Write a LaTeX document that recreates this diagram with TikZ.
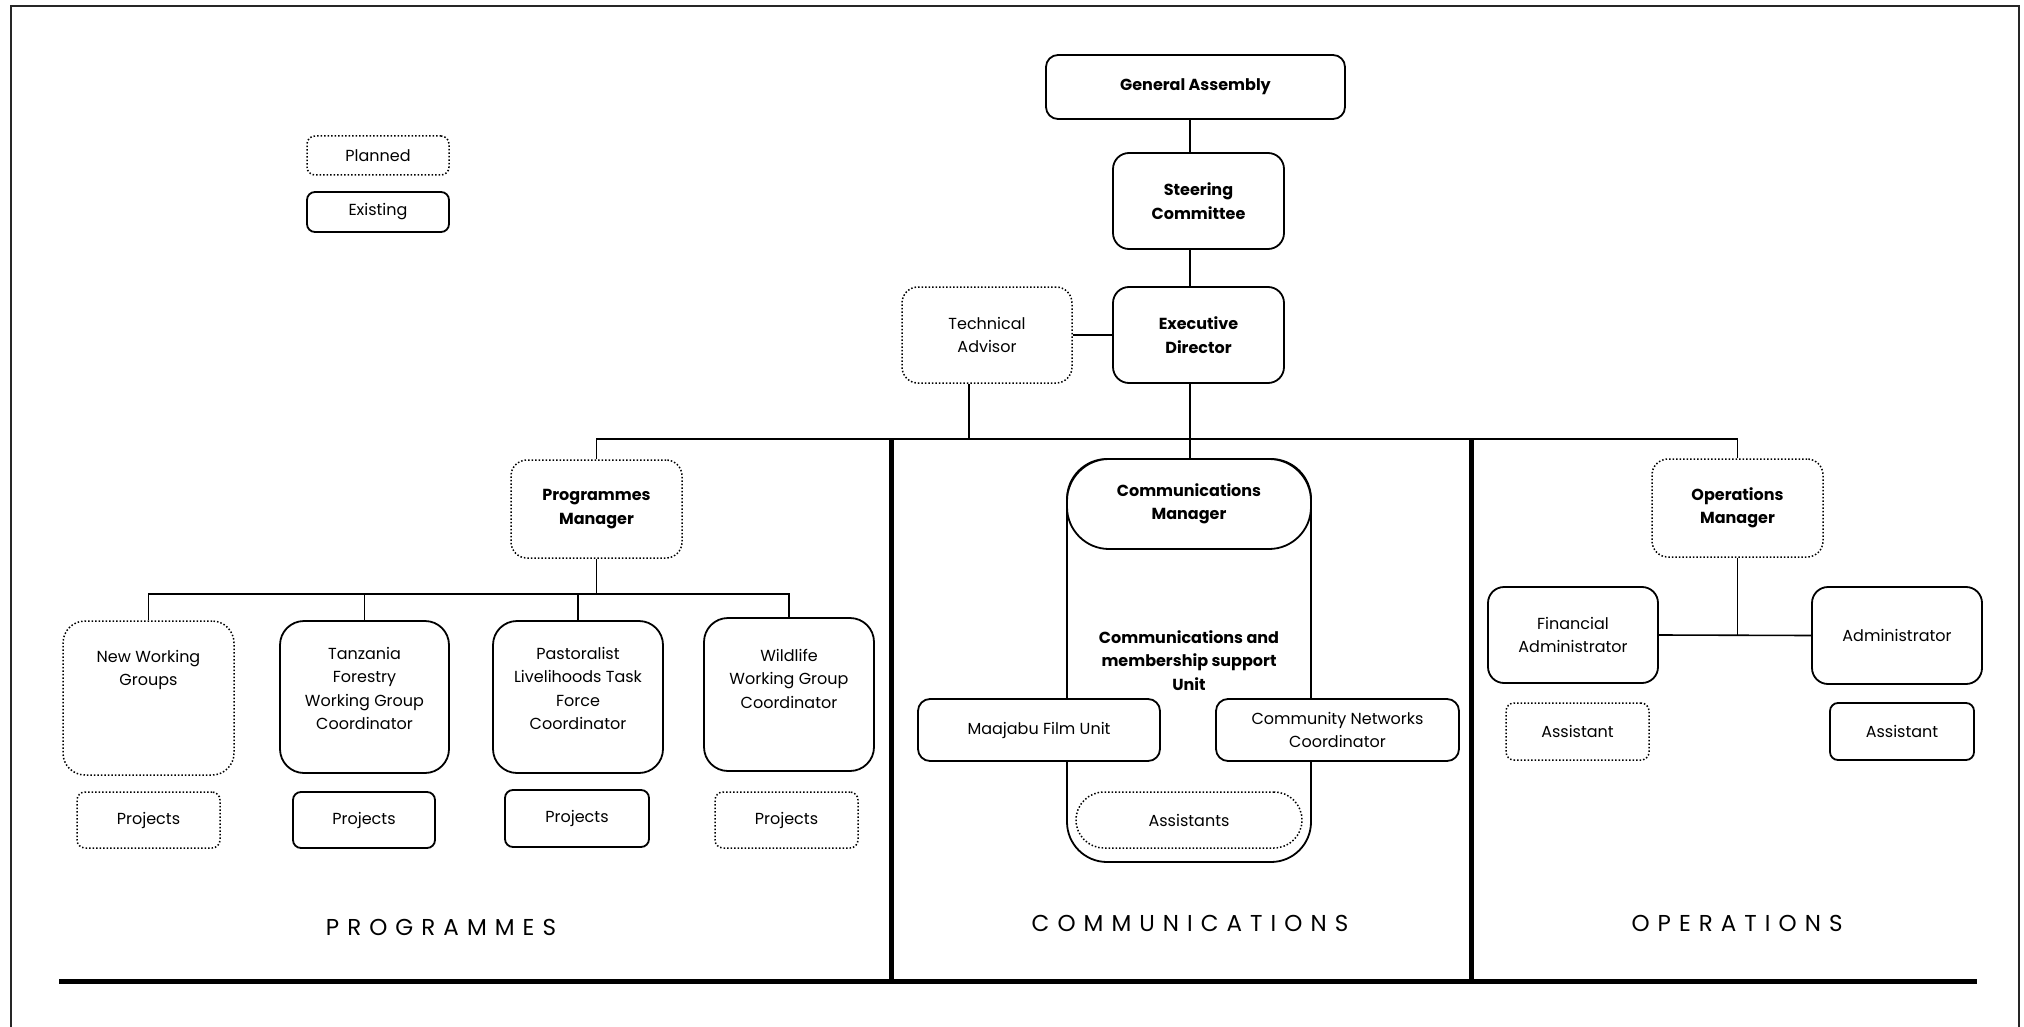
\documentclass[tikz,border=0pt]{standalone}
\usepackage{fontspec}
\setmainfont{Poppins}
\newcommand\regf{\fontsize{16}{23.5}\selectfont}
\newcommand\bldf{\fontsize{16}{23.5}\selectfont\bfseries}
\newcommand\secf{\fontsize{23}{28}\selectfont\addfontfeatures{LetterSpace=35}}
\newcommand\tbox[4]{\parbox[c][#1][t]{#2}{\centering\vspace*{#3}#4\par}}
\begin{document}
\begin{tikzpicture}[x=1pt,y=-1pt,
  base/.style={rounded corners=#1, inner sep=0pt, align=center, fill=white, font=\regf},
  exist/.style={base=#1, draw, line width=1.8pt},
  exist/.default=16pt,
  plan/.style={base=#1, draw, line width=1.5pt, dash pattern=on 1.5pt off 2pt},
  plan/.default=16pt,
  conn/.style={line width=1.6pt},
  divider/.style={line width=5pt},
  sect/.style={font=\secf, inner sep=0pt},
]
\useasboundingbox (0,0) rectangle (2024,1027);
\clip (0,0) rectangle (2024,1027);
\fill[white] (0,0) rectangle (2024,1027);
% frame
\draw[line width=2.5pt, black!85] (11,6) rectangle (2019,1060);

% helper coordinates
\coordinate (topbus) at (0,439);
\coordinate (spine) at (1190,0);
\coordinate (tadrop) at (969,0);
\coordinate (pbus) at (0,594);

% dividers and bottom rule
\draw[divider] (891,439) -- (891,981);
\draw[divider] (1471,439) -- (1471,981);
\draw[divider] (59,981) -- (1977,981);

% legend
\node[plan=8pt, minimum width=142pt, minimum height=39pt] (legP) at (378,155.5) {Planned};
\node[exist=8pt, minimum width=142pt, minimum height=40pt] (legE) at (378,212) {Existing};

% top hierarchy
\node[exist=12pt, minimum width=299pt, minimum height=64pt, font=\bldf] (GA) at (1195.5,87) {General Assembly};
\node[exist, minimum width=171pt, minimum height=96pt, font=\bldf] (SC) at (1198.5,201) {Steering\\Committee};
\node[exist, minimum width=171pt, minimum height=96pt, font=\bldf] (ED) at (1198.5,335) {Executive\\Director};
\node[plan, minimum width=170pt, minimum height=96pt] (TA) at (987,335) {Technical\\Advisor};

% managers
\node[plan, minimum width=171pt, minimum height=98pt, font=\bldf] (PM) at (596.5,509) {Programmes\\Manager};
\node[plan, minimum width=171pt, minimum height=98pt, font=\bldf] (OM) at (1737.5,508) {Operations\\Manager};

% communications unit
\node[exist=40pt, minimum width=244pt, minimum height=403pt, font=\bldf] (unit) at (1189,660.5) {Communications and\\membership support\\Unit};
\node[exist=42pt, minimum width=244pt, minimum height=90pt, font=\bldf] (CM) at (1189,504) {Communications\\Manager};
\node[exist=12pt, minimum width=242pt, minimum height=62pt] (MFU) at (1039,730) {Maajabu Film Unit};
\node[exist=12pt, minimum width=243pt, minimum height=62pt] (CNC) at (1337.5,730) {Community Networks\\Coordinator};
\node[plan=28pt, minimum width=226pt, minimum height=56pt] (AS) at (1189,820) {Assistants};

% programmes
\node[plan=22pt, minimum width=171pt, minimum height=154pt] (NWG) at (148.5,698) {\tbox{154pt}{171pt}{29pt}{New Working\\Groups}};
\node[exist=24pt, minimum width=169pt, minimum height=152pt] (TF) at (364.5,697) {\tbox{152pt}{169pt}{26pt}{Tanzania\\Forestry\\Working Group\\Coordinator}};
\node[exist=24pt, minimum width=170pt, minimum height=152pt] (PL) at (578,697) {\tbox{152pt}{170pt}{26pt}{Pastoralist\\Livelihoods Task\\Force\\Coordinator}};
\node[exist=24pt, minimum width=170pt, minimum height=153pt] (WL) at (789,694.5) {\tbox{153pt}{170pt}{31pt}{Wildlife\\Working Group\\Coordinator}};
\node[plan=8pt, minimum width=143pt, minimum height=56pt] (P1) at (148.5,820) {Projects};
\node[exist=8pt, minimum width=142pt, minimum height=56pt] (P2) at (364,820) {Projects};
\node[exist=8pt, minimum width=144pt, minimum height=57pt] (P3) at (577,818.5) {Projects};
\node[plan=8pt, minimum width=143pt, minimum height=56pt] (P4) at (786.5,820) {Projects};

% operations
\node[exist, minimum width=170pt, minimum height=96pt] (FA) at (1573,635) {Financial\\Administrator};
\node[exist, minimum width=170pt, minimum height=97pt] (AD) at (1897,635.5) {Administrator};
\node[plan=8pt, minimum width=143pt, minimum height=57pt] (A1) at (1577.5,731.5) {Assistant};
\node[exist=8pt, minimum width=144pt, minimum height=57pt] (A2) at (1902,731.5) {Assistant};

% connectors
\draw[conn] (spine |- GA.south) -- (spine |- SC.north);
\draw[conn] (spine |- SC.south) -- (spine |- ED.north);
\draw[conn] (TA.east) -- (ED.west);
\draw[conn] (tadrop |- TA.south) -- (tadrop |- topbus);
\draw[conn] (spine |- ED.south) -- (spine |- CM.north);
\draw[conn] (PM.north) -- (PM.north |- topbus) -- (OM.north |- topbus) -- (OM.north);
\draw[conn] (PM.south) -- (PM.south |- pbus);
\draw[conn] (NWG.north) -- (NWG.north |- pbus) -- (WL.north |- pbus) -- (WL.north);
\draw[conn] (TF.north) -- (TF.north |- pbus);
\draw[conn] (PL.north) -- (PL.north |- pbus);
\draw[conn] (OM.south) -- (OM.south |- FA.east);
\draw[conn] (FA.east) -- (AD.west);

% section labels
\node[sect] (secP) at (441,927) {PROGRAMMES};
\node[sect] (secC) at (1190,923) {COMMUNICATIONS};
\node[sect] (secO) at (1737,923) {OPERATIONS};
\end{tikzpicture}
\end{document}
